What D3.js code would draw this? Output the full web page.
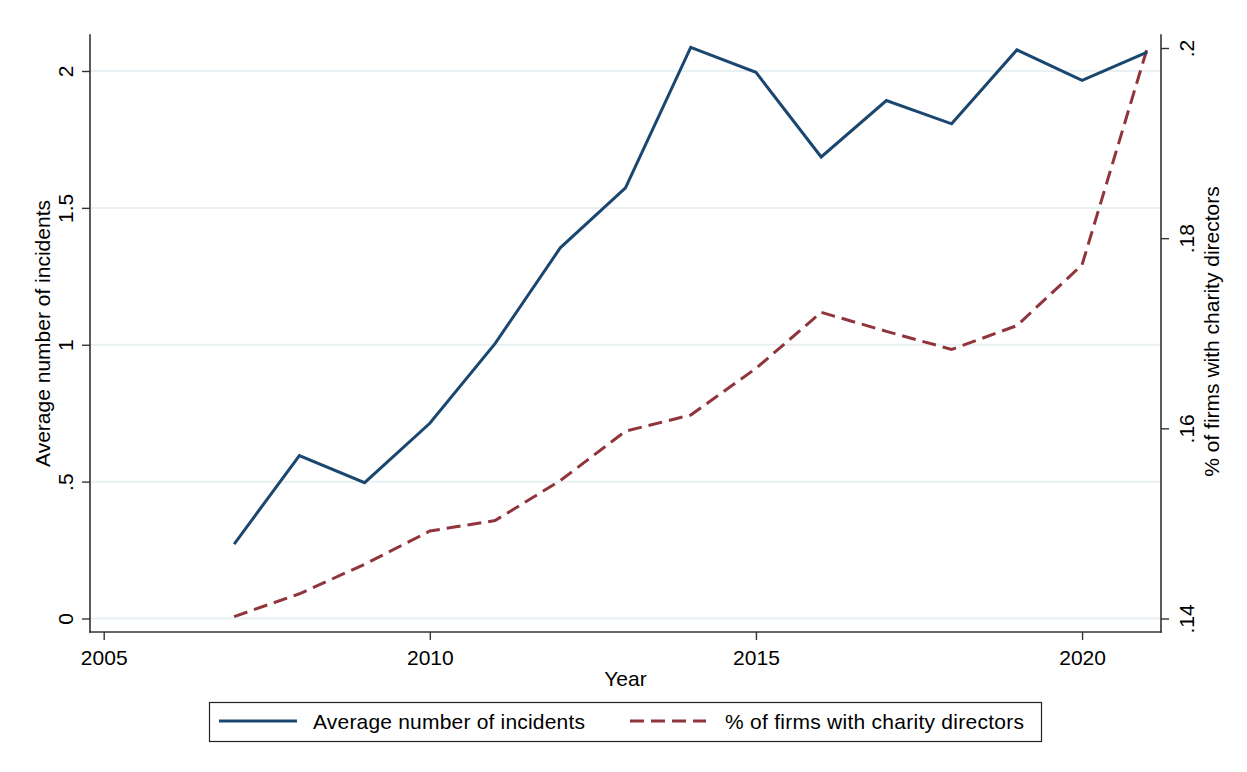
<!DOCTYPE html>
<html>
<head>
<meta charset="utf-8">
<script src="https://cdn.jsdelivr.net/npm/d3@7/dist/d3.min.js"></script>
<style>
  html, body { margin: 0; padding: 0; background: #fff; }
  svg { display: block; font-family: "Liberation Sans", Arial, sans-serif; }
</style>
</head>
<body>
<svg id="chart" width="1247" height="772"></svg>
<script>
// Yearly series
const years = [2007, 2008, 2009, 2010, 2011, 2012, 2013, 2014, 2015, 2016, 2017, 2018, 2019, 2020, 2021];
const avgIncidents = [0.272, 0.595, 0.496, 0.713, 1.004, 1.354, 1.573, 2.086, 1.995, 1.686, 1.892, 1.807, 2.077, 1.966, 2.069];
const pctCharity = [0.1402, 0.1426, 0.1457, 0.1492, 0.1503, 0.1545, 0.1597, 0.1614, 0.1663, 0.1722, 0.1702, 0.1683, 0.1708, 0.1772, 0.2000];

// Axis ticks and labels
const xTicks = [2005, 2010, 2015, 2020];
const leftTicks = [0, 0.5, 1, 1.5, 2];
const rightTicks = [0.14, 0.16, 0.18, 0.2];
const xTitle = "Year";
const leftTitle = "Average number of incidents";
const rightTitle = "% of firms with charity directors";
const seriesNames = ["Average number of incidents", "% of firms with charity directors"];

const colBlue = "#1a476f";
const colRed = "#90353b";
const gridCol = "#e9f0f3";
const axisCol = "#333";
const fontSize = 21;
const fontFam = "Liberation Sans, Arial, sans-serif";

const plot = { left: 90, right: 1161, top: 35, bottom: 632 };

const x = d3.scaleLinear().domain([2004.79, 2021.21]).range([plot.left, plot.right]);
const yL = d3.scaleLinear().domain([0, 2]).range([618.5, 71]);
const yR = d3.scaleLinear().domain([0.14, 0.2]).range([618.5, 48]);

const fmt = v => String(v).replace(/^0\./, ".").replace(/^-0\./, "-.");

const svg = d3.select("#chart");

// Horizontal grid at left-axis ticks
svg.append("g").selectAll("line").data(leftTicks).join("line")
  .attr("x1", plot.left).attr("x2", plot.right)
  .attr("y1", d => yL(d)).attr("y2", d => yL(d))
  .attr("stroke", gridCol).attr("stroke-width", 2);

function styleTicks(g) {
  g.select(".domain").remove();
  g.selectAll(".tick line").attr("stroke", axisCol).attr("stroke-width", 1.4);
  g.selectAll(".tick text").attr("fill", "#000")
    .style("font-size", fontSize + "px").style("font-family", fontFam);
}

// Left axis
const gL = svg.append("g").attr("transform", `translate(${plot.left},0)`)
  .call(d3.axisLeft(yL).tickValues(leftTicks).tickFormat(fmt).tickSize(8).tickSizeOuter(0));
styleTicks(gL);
gL.selectAll(".tick text")
  .attr("x", null).attr("dy", null).attr("text-anchor", "middle")
  .attr("transform", "translate(-17,0) rotate(-90)");

// Right axis
const gR = svg.append("g").attr("transform", `translate(${plot.right},0)`)
  .call(d3.axisRight(yR).tickValues(rightTicks).tickFormat(fmt).tickSize(8).tickSizeOuter(0));
styleTicks(gR);
gR.selectAll(".tick text")
  .attr("x", null).attr("dy", null).attr("text-anchor", "middle")
  .attr("transform", "translate(33,0) rotate(-90)");

// Bottom axis
const gB = svg.append("g").attr("transform", `translate(0,${plot.bottom})`)
  .call(d3.axisBottom(x).tickValues(xTicks).tickFormat(d3.format("d")).tickSize(8).tickSizeOuter(0));
styleTicks(gB);
gB.selectAll(".tick text").attr("y", 33).attr("dy", null);

// Axis lines
const axisLines = [
  [plot.left, plot.top, plot.left, plot.bottom],
  [plot.right, plot.top, plot.right, plot.bottom],
  [plot.left, plot.bottom, plot.right, plot.bottom]
];
svg.append("g").selectAll("line").data(axisLines).join("line")
  .attr("x1", d => d[0]).attr("y1", d => d[1]).attr("x2", d => d[2]).attr("y2", d => d[3])
  .attr("stroke", axisCol).attr("stroke-width", 1.6).attr("stroke-linecap", "square");

// Axis titles
svg.append("text").attr("x", (plot.left + plot.right) / 2).attr("y", 686)
  .attr("text-anchor", "middle").style("font-size", fontSize + "px").text(xTitle);
const midY = (plot.top + plot.bottom) / 2;
svg.append("text").attr("transform", `translate(50,${midY}) rotate(-90)`)
  .attr("text-anchor", "middle").style("font-size", fontSize + "px").text(leftTitle);
svg.append("text").attr("transform", `translate(1219,${midY - 2}) rotate(-90)`)
  .attr("text-anchor", "middle").style("font-size", fontSize + "px").text(rightTitle);

// Series lines
const lineL = d3.line().x((d, i) => x(years[i])).y(d => yL(d));
const lineR = d3.line().x((d, i) => x(years[i])).y(d => yR(d));

svg.append("path").datum(pctCharity).attr("d", lineR)
  .attr("fill", "none").attr("stroke", colRed).attr("stroke-width", 3)
  .attr("stroke-dasharray", "14,7").attr("stroke-linejoin", "miter");

svg.append("path").datum(avgIncidents).attr("d", lineL)
  .attr("fill", "none").attr("stroke", colBlue).attr("stroke-width", 3)
  .attr("stroke-linejoin", "miter");

// Legend
const lg = svg.append("g");
lg.append("rect").attr("x", 209.5).attr("y", 702.5).attr("width", 832).attr("height", 39)
  .attr("fill", "#fff").attr("stroke", "#222").attr("stroke-width", 1.2);
const legendItems = [
  { name: seriesNames[0], color: colBlue, dash: null, x0: 219, x1: 297, tx: 313 },
  { name: seriesNames[1], color: colRed, dash: "14,7", x0: 630, x1: 706, tx: 725 }
];
legendItems.forEach(it => {
  lg.append("line").attr("x1", it.x0).attr("x2", it.x1).attr("y1", 721).attr("y2", 721)
    .attr("stroke", it.color).attr("stroke-width", 3).attr("stroke-dasharray", it.dash);
  lg.append("text").attr("x", it.tx).attr("y", 729).style("font-size", fontSize + "px")
    .attr("textLength", it.tx === 313 ? 272 : 299).text(it.name);
});
</script>
</body>
</html>
